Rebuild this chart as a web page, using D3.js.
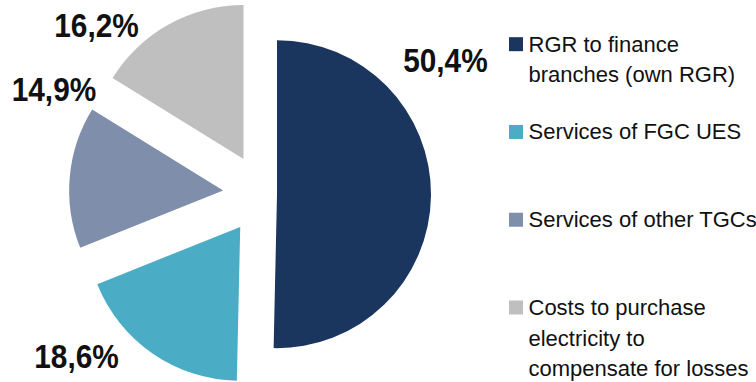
<!DOCTYPE html>
<html>
<head>
<meta charset="utf-8">
<script src="https://cdn.jsdelivr.net/npm/d3@7"></script>
<style>
  html, body { margin: 0; padding: 0; background: #ffffff; }
  svg { display: block; }
</style>
</head>
<body>
<svg id="chart" width="756" height="382"></svg>
<script>
// Cost structure shares (%)
const categories = [
  "RGR to finance branches (own RGR)",
  "Services of FGC UES",
  "Services of other TGCs",
  "Costs to purchase electricity to compensate for losses"
];
const legendLines = [
  ["RGR to finance", "branches (own RGR)"],
  ["Services of FGC UES"],
  ["Services of other TGCs"],
  ["Costs to purchase", "electricity to", "compensate for losses"]
];
const shares = [50.4, 18.6, 14.9, 16.2];
const colors = ["#1b365e", "#4bacc6", "#7f8fab", "#bfbfbf"];

// Slice explosion (px) and label placement (degrees clockwise from north, px from centre)
const explode = [14, 40, 40, 40];
const labelAngle = [56.2, 227.0, 294.0, 313.3];
const labelRadius = [219.5, 255, 228.8, 228.8];

const svg = d3.select("#chart");
const cx = 263, cy = 194, radius = 154;

const fmt = v => d3.format(".1f")(v).replace(".", ",") + "%";

const pie = d3.pie().sort(null).value(d => d)
  .startAngle(0).endAngle(2 * Math.PI);
const arc = d3.arc().innerRadius(0).outerRadius(radius);
const arcs = pie(shares);

const g = svg.append("g").attr("transform", `translate(${cx},${cy})`);

g.selectAll("path.slice")
  .data(arcs)
  .join("path")
  .attr("class", "slice")
  .attr("d", arc)
  .attr("fill", (d, i) => colors[i])
  .attr("transform", (d, i) => {
    const mid = (d.startAngle + d.endAngle) / 2;
    return `translate(${explode[i] * Math.sin(mid)},${-explode[i] * Math.cos(mid)})`;
  });

// Percentage labels
g.selectAll("text.pct")
  .data(arcs)
  .join("text")
  .attr("class", "pct")
  .attr("transform", (d, i) => {
    const a = labelAngle[i] * Math.PI / 180;
    const x = labelRadius[i] * Math.sin(a);
    const y = -labelRadius[i] * Math.cos(a);
    return `translate(${x},${y}) scale(0.89,1)`;
  })
  .attr("text-anchor", "middle")
  .attr("font-family", "'Liberation Sans', Arial, sans-serif")
  .attr("font-weight", "bold")
  .attr("font-size", 33.5)
  .attr("fill", "#111111")
  .text(d => fmt(d.data));

// Legend
const legendY = d3.scaleLinear().domain([0, 3]).range([51.7, 315]);
const legend = svg.append("g");
const items = legend.selectAll("g.item")
  .data(categories)
  .join("g")
  .attr("class", "item")
  .attr("transform", (d, i) => `translate(509,${legendY(i)})`);

items.append("rect")
  .attr("x", 0)
  .attr("y", -14.5)
  .attr("width", 14)
  .attr("height", 14)
  .attr("fill", (d, i) => colors[i]);

items.append("text")
  .attr("font-family", "'Liberation Sans', Arial, sans-serif")
  .attr("font-size", 22)
  .attr("fill", "#111111")
  .selectAll("tspan")
  .data((d, i) => legendLines[i])
  .join("tspan")
  .attr("x", 19.5)
  .attr("y", (d, j) => j * 30.5)
  .text(d => d);
</script>
</body>
</html>
